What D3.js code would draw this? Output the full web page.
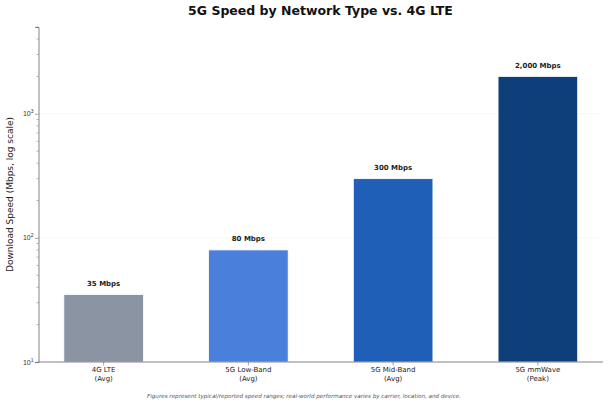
<!DOCTYPE html>
<html>
<head>
<meta charset="utf-8">
<script src="https://cdn.jsdelivr.net/npm/d3@7"></script>
<style>
  body { margin: 0; background: #fff; }
  svg { display: block; font-family: "DejaVu Sans", sans-serif; }
</style>
</head>
<body>
<svg id="chart" width="609" height="406"></svg>
<script>
// chart data
var categories = ["4G LTE\n(Avg)", "5G Low-Band\n(Avg)", "5G Mid-Band\n(Avg)", "5G mmWave\n(Peak)"];
var speeds = [35, 80, 300, 2000];
var barLabels = ["35 Mbps", "80 Mbps", "300 Mbps", "2,000 Mbps"];
var barColors = ["#8a94a3", "#4a80dc", "#1f5fb8", "#0e3f7b"];
var majorTicks = [10, 100, 1000];

var svg = d3.select("#chart");
// note: "top" is taken by window.top, so plot edges get their own names
var plotLeft = 38.5, plotRight = 603, plotTop = 27, plotBottom = 362;

// xlim is -0.45 .. 3.45 like the original
var x = d3.scaleLinear().domain([-0.45, 3.45]).range([plotLeft, plotRight]);
var barW = x(0.55) - x(0);
var y = d3.scaleLog().domain([10, 5000]).range([plotBottom, plotTop]);

// grid on major ticks
svg.append("g")
  .selectAll("line")
  .data(majorTicks.slice(1))
  .enter()
  .append("line")
  .attr("x1", plotLeft).attr("x2", plotRight)
  .attr("y1", function (d) { return y(d); })
  .attr("y2", function (d) { return y(d); })
  .style("stroke", "#e4e4e4")
  .style("stroke-width", 0.6)
  .style("stroke-dasharray", "2,2");

// bars
svg.append("g")
  .selectAll("rect")
  .data(speeds)
  .enter()
  .append("rect")
  .attr("x", function (d, i) { return x(i) - barW / 2; })
  .attr("y", function (d) { return y(d); })
  .attr("width", barW)
  .attr("height", function (d) { return plotBottom - y(d); })
  .style("fill", function (d, i) { return barColors[i]; })
  .style("stroke", "#fff")
  .style("stroke-width", 0.8);

// value labels
svg.append("g")
  .selectAll("text")
  .data(speeds)
  .enter()
  .append("text")
  .attr("x", function (d, i) { return x(i); })
  .attr("y", function (d) { return y(d) - 8.5; })
  .attr("text-anchor", "middle")
  .style("font-size", "7px")
  .style("font-weight", "bold")
  .style("fill", "#222")
  .text(function (d, i) { return barLabels[i]; });

// y axis
var minorTicks = y.ticks().filter(function (d) { return majorTicks.indexOf(d) < 0; });
var yAxis = svg.append("g").attr("transform", "translate(" + plotLeft + ",0)");
yAxis.call(d3.axisLeft(y).tickValues(majorTicks).tickSize(3.5).tickFormat(""));
yAxis.call(function (g) {
  g.selectAll(".tick line").style("stroke", "#666").style("stroke-width", 0.6);
  g.select(".domain").style("stroke", "#666").style("stroke-width", 0.8);
});
yAxis.append("g")
  .selectAll("line")
  .data(minorTicks)
  .enter()
  .append("line")
  .attr("x1", -2).attr("x2", 0)
  .attr("y1", function (d) { return y(d); })
  .attr("y2", function (d) { return y(d); })
  .style("stroke", "#666")
  .style("stroke-width", 0.5);
var tickLab = yAxis.append("g")
  .selectAll("text")
  .data(majorTicks)
  .enter()
  .append("text")
  .attr("x", -5)
  .attr("y", function (d) { return y(d) + 2.5; })
  .attr("text-anchor", "end")
  .style("font-size", "7px")
  .style("fill", "#333");
tickLab.append("tspan").text("10");
tickLab.append("tspan")
  .attr("dy", -3)
  .style("font-size", "5px")
  .text(function (d) { return Math.round(Math.log10(d)); });

// x axis
svg.append("line")
  .attr("x1", plotLeft).attr("x2", plotRight)
  .attr("y1", plotBottom).attr("y2", plotBottom)
  .style("stroke", "#666")
  .style("stroke-width", 0.8);
var xl = svg.append("g")
  .selectAll("text")
  .data(categories)
  .enter()
  .append("text")
  .attr("text-anchor", "middle")
  .style("font-size", "7px")
  .style("fill", "#222");
xl.each(function (d, i) {
  var parts = d.split("\n");
  var t = d3.select(this);
  parts.forEach(function (p, k) {
    t.append("tspan")
      .attr("x", x(i))
      .attr("y", 372 + k * 8.5)
      .text(p);
  });
});
svg.selectAll(".xtick")
  .data(categories)
  .enter()
  .append("line")
  .attr("x1", function (d, i) { return x(i); })
  .attr("x2", function (d, i) { return x(i); })
  .attr("y1", plotBottom).attr("y2", plotBottom + 3.5)
  .style("stroke", "#666")
  .style("stroke-width", 0.6);

// title
svg.append("text")
  .attr("x", 320.5)
  .attr("y", 15)
  .attr("text-anchor", "middle")
  .style("font-size", "12.5px")
  .style("font-weight", "bold")
  .style("fill", "#111")
  .text("5G Speed by Network Type vs. 4G LTE");

// y label
svg.append("text")
  .attr("text-anchor", "middle")
  .attr("transform", "translate(12.5," + (plotTop + plotBottom) / 2 + ")rotate(-90)")
  .style("font-size", "9px")
  .style("fill", "#222")
  .text("Download Speed (Mbps, log scale)");

// footnote
svg.append("text")
  .attr("x", 304)
  .attr("y", 398)
  .attr("text-anchor", "middle")
  .style("font-size", "5.6px")
  .style("font-style", "italic")
  .style("fill", "#555")
  .text("Figures represent typical/reported speed ranges; real-world performance varies by carrier, location, and device.");
</script>
</body>
</html>
